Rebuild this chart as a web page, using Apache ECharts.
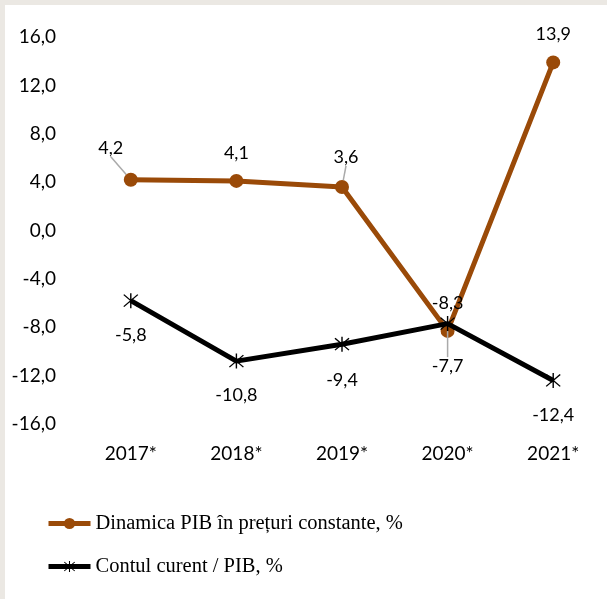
<!DOCTYPE html>
<html><head><meta charset="utf-8">
<script src="https://cdn.jsdelivr.net/npm/echarts@6/dist/echarts.min.js"></script>
<style>
html,body{margin:0;padding:0;background:#ebe8e3;width:607px;height:599px;overflow:hidden}
#c{position:absolute;left:5px;top:5px;width:602px;height:594px;background:#fff}
</style></head><body>
<div id="c"></div>
<script>
const categories = ['2017*','2018*','2019*','2020*','2021*'];
const gdpGrowth = [4.2, 4.1, 3.6, -8.3, 13.9];
const currentAccount = [-5.8, -10.8, -9.4, -7.7, -12.4];
const seriesNames = ['Dinamica PIB în prețuri constante, %', 'Contul curent / PIB, %'];
const yMin = -16, yMax = 16, yStep = 4;

const fmt = v => v.toFixed(1).replace('.', ',');
const asterisk = 'path://M9.2,0L10.8,0L10.8,20L9.2,20Z M1.5,2.6L2.6,1.5L18.5,17.4L17.4,18.5Z M17.4,1.5L18.5,2.6L2.6,18.5L1.5,17.4Z';
const SANS = 'Lato';
const guide = {show:true, lineStyle:{color:'#aaa', width:1.5}};
const withGuide = (arr, idx) => arr.map((v,i) => idx.includes(i) ? {value:v, labelLine:guide} : {value:v, labelLine:{show:false}});

const chart = echarts.init(document.getElementById('c'), null, {renderer:'canvas'});
chart.setOption({
  animation:false,
  grid:{left:73, right:1, top:32, bottom:175},
  xAxis:{type:'category', data:categories, boundaryGap:true,
    axisLine:{show:false}, axisTick:{show:false}, splitLine:{show:false},
    axisLabel:{margin:20, fontFamily:SANS, fontSize:19, color:'#000'}},
  yAxis:{type:'value', min:yMin, max:yMax, interval:yStep,
    axisLine:{show:false}, axisTick:{show:false}, splitLine:{show:false},
    axisLabel:{margin:22, fontFamily:SANS, fontSize:19, color:'#000', formatter:v=>fmt(v)}},
  legend:{orient:'vertical', left:36, top:503, itemWidth:42, itemHeight:14, itemGap:22,
    textStyle:{fontFamily:'Liberation Serif', fontSize:20.5, color:'#000'},
    lineStyle:{width:5},
    data:seriesNames},
  series:[
    {name:seriesNames[0], type:'line', data:withGuide(gdpGrowth,[0,2]), z:2,
     symbol:'circle', symbolSize:14,
     lineStyle:{color:'#9a4a08', width:5}, itemStyle:{color:'#9a4a08'},
     label:{show:true, position:'top', distance:12, fontFamily:SANS, fontSize:18, color:'#000', formatter:p=>fmt(p.value)},
     labelLayout:function(p){
       if(p.dataIndex===0) return {dx:-20, dy:-4};
       if(p.dataIndex===2) return {dx:4, dy:-2};
       return {};
     }},
    {name:seriesNames[1], type:'line', data:withGuide(currentAccount,[3]), z:3,
     symbol:asterisk, symbolSize:15,
     lineStyle:{color:'#000', width:5}, itemStyle:{color:'#000'},
     label:{show:true, position:'bottom', distance:18, fontFamily:SANS, fontSize:18, color:'#000', formatter:p=>fmt(p.value)},
     labelLayout:function(p){
       if(p.dataIndex===3) return {dy:8};
       if(p.dataIndex===2) return {dy:2};
       return {};
     }}
  ]
});
</script>
</body></html>
